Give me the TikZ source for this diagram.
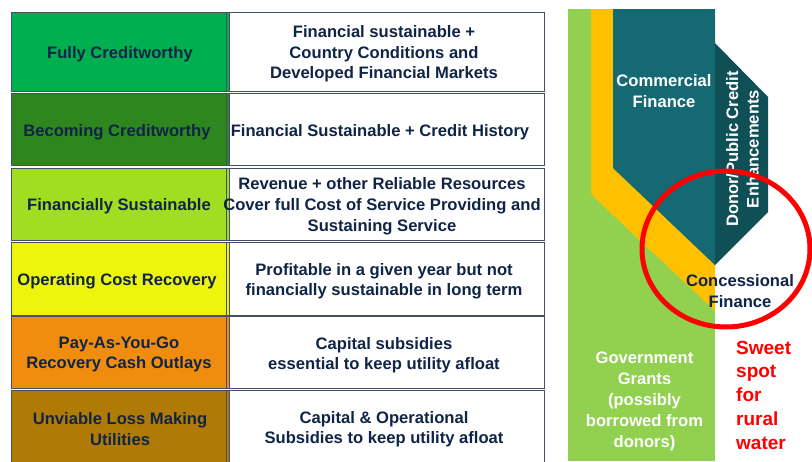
\documentclass[tikz,border=0pt]{standalone}
\usepackage{fontspec}
\setmainfont{Liberation Sans}
\definecolor{navy}{HTML}{0F2446}
\definecolor{bordc}{HTML}{44506A}
\definecolor{c1}{HTML}{00B050}
\definecolor{c2}{HTML}{2E861E}
\definecolor{c3}{HTML}{A2DD22}
\definecolor{c4}{HTML}{EEF50C}
\definecolor{c5}{HTML}{F08D0E}
\definecolor{c6}{HTML}{AF7A05}
\definecolor{lgreen}{HTML}{92D050}
\definecolor{gold}{HTML}{FFC000}
\definecolor{teal1}{HTML}{146972}
\definecolor{teal2}{HTML}{0F4F56}
\definecolor{sweetred}{HTML}{FF0000}
\newcommand\tblrow[3]{%
  \filldraw[fill=#3, draw=bordc, line width=0.8pt] (11,#1) rectangle (229,#2);
  \draw[bordc, line width=0.8pt] (226,#1) -- (226,#2);
  \draw[bordc, line width=0.8pt] (229,#1) rectangle (544,#2);
}
\begin{document}
\begin{tikzpicture}[x=1pt,y=-1pt,
  lab/.style={font=\fontsize{16.6}{20.5}\selectfont\bfseries, text=navy, align=center, inner sep=0pt},
  tlab/.style={lab, yshift=-2pt},
  wlab/.style={lab, text=white},
  redlab/.style={font=\fontsize{19}{23.75}\selectfont\bfseries, text=sweetred, align=left, inner sep=0pt}]
\useasboundingbox (0,0) rectangle (812,461);
\fill[white] (0,0) rectangle (812,461);
% table
\tblrow{12}{91}{c1}
\tblrow{93}{165}{c2}
\tblrow{168}{240}{c3}
\tblrow{242}{315}{c4}
\tblrow{316}{388}{c5}
\tblrow{390}{463}{c6}
\node[tlab] (l1) at (120,52) {Fully Creditworthy};
\node[tlab] (r1) at (384,52) {Financial sustainable +\\Country Conditions and\\Developed Financial Markets};
\node[tlab] (l2) at (117,130) {Becoming Creditworthy};
\node[tlab] (r2) at (380,130) {Financial Sustainable + Credit History};
\node[tlab] (l3) at (119,204) {Financially Sustainable};
\node[tlab, font=\fontsize{16.6}{21.2}\selectfont\bfseries] (r3) at (382,204.5) {Revenue + other Reliable Resources\\Cover full Cost of Service Providing and\\Sustaining Service};
\node[tlab] (l4) at (117,279) {Operating Cost Recovery};
\node[tlab] (r4) at (384,279) {Profitable in a given year but not\\financially sustainable in long term};
\node[tlab] (l5) at (119,352.5) {Pay-As-You-Go\\Recovery Cash Outlays};
\node[tlab] (r5) at (384,353) {Capital subsidies\\essential to keep utility afloat};
\node[tlab] (l6) at (120,427) {Unviable Loss Making\\Utilities};
\node[tlab] (r6) at (384,427) {Capital \& Operational\\Subsidies to keep utility afloat};
% right panel
\fill[lgreen] (568,9) rectangle (715,461);
\fill[gold] (591,9) -- (613,9) -- (613,168) -- (715,265) -- (715,311) -- (596,199) -- (591,193) -- cycle;
\fill[teal1] (613,9) -- (715,9) -- (715,265) -- (613,168) -- cycle;
\fill[teal2] (715,43) -- (768,97) -- (768,212) -- (715,265) -- cycle;
\node[wlab] (cf) at (664,91) {Commercial\\Finance};
\node[wlab, rotate=90] (dp) at (742.5,149) {Donor/Public Credit\\Enhancements};
\node[wlab, font=\fontsize{16.6}{21}\selectfont\bfseries] (gg) at (644.5,401) {Government\\Grants\\(possibly\\borrowed from\\donors)};
\node[redlab, anchor=west] (sw) at (736,395) {Sweet\\spot\\for\\rural\\water};
\draw[sweetred, line width=5pt] (726,249) ellipse [x radius=84pt, y radius=78pt];
\node[lab] (cn) at (740,291) {Concessional\\Finance};
\end{tikzpicture}
\end{document}
